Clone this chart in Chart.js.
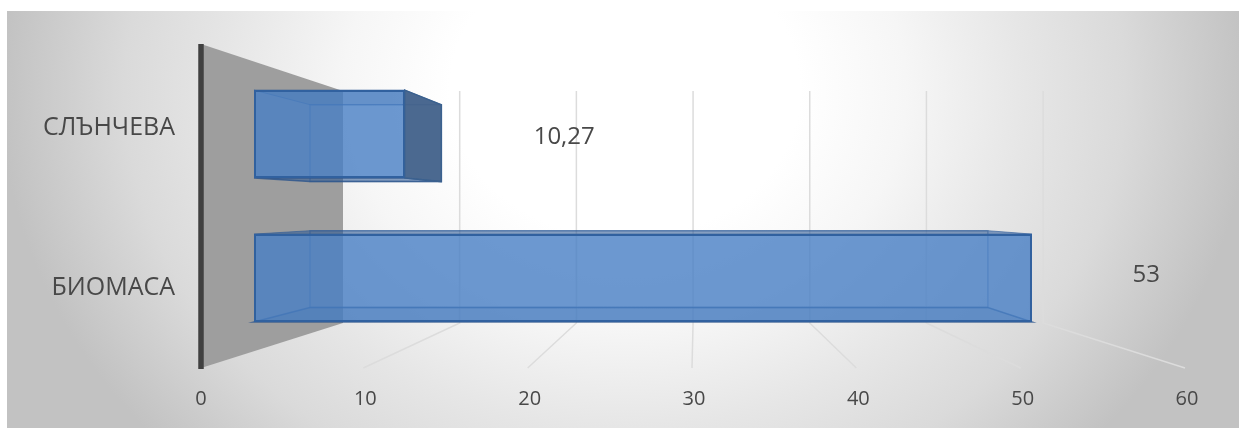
<!DOCTYPE html>
<html>
<head>
<meta charset="utf-8">
<script src="https://cdn.jsdelivr.net/npm/chart.js@4"></script>
<style>
    html, body { margin: 0; padding: 0; background: #fff; }
    #wrap { position: relative; width: 1239px; height: 428px; overflow: hidden; }
    #bg {
        position: absolute; left: 7px; top: 11px; width: 1232px; height: 417px;
        background: radial-gradient(ellipse 625px 528px at 618px 79px, #ffffff 0%, #ffffff 28%, #f6f6f6 45%, #e6e6e6 64%, #dadada 80%, #c2c2c2 100%);
    }
    #chart { position: absolute; left: 0; top: 0; }
</style>
</head>
<body>
<div id="wrap">
    <div id="bg"></div>
    <canvas id="chart" width="1239" height="428"></canvas>
</div>
<script>
    var categories = ["СЛЪНЧЕВА", "БИОМАСА"]
    var values = [10.27, 53]
    var tickValues = [0, 10, 20, 30, 40, 50, 60]

    var textColour = "#484848"
    var font = "Open Sans"

    // depth planes of the picture, scaled around the vanishing line
    var vanishY = 207
    var rearK = 0.875
    var labelK = 0.96
    var categoryK = 1.105

    function depthY(y, k) {
        return vanishY + (y - vanishY) * k
    }

    function poly(ctx, pts, fill, stroke, lw) {
        ctx.beginPath()
        pts.forEach(function (p, i) {
            if (i == 0) ctx.moveTo(p[0], p[1])
            else ctx.lineTo(p[0], p[1])
        })
        ctx.closePath()
        if (fill) {
            ctx.fillStyle = fill
            ctx.fill()
        }
        if (stroke) {
            ctx.strokeStyle = stroke
            ctx.lineWidth = lw || 1
            ctx.stroke()
        }
    }

    var box3d = {
        id: "box3d",
        beforeDatasetsDraw: function (chart) {
            var ctx = chart.ctx
            var area = chart.chartArea
            var front = chart.scales.x
            var wall = chart.scales.xWall
            var wallTop = area.top + 29
            var wallBottom = area.bottom - 27
            var floorY = area.bottom + 17
            var topY = area.top - 18
            var x0 = front.getPixelForValue(0)

            ctx.save()

            // back wall
            poly(ctx, [[x0, topY], [wall.getPixelForValue(0), wallTop], [wall.getPixelForValue(0), wallBottom], [x0, floorY + 1]], "#9e9e9e")

            // grid on the wall and on the floor
            ctx.strokeStyle = "#dcdcdc"
            ctx.lineWidth = 1.5
            tickValues.forEach(function (v) {
                if (v == 0) return
                var bx = wall.getPixelForValue(v)
                ctx.beginPath()
                ctx.moveTo(bx, wallTop)
                ctx.lineTo(bx, wallBottom)
                ctx.lineTo(front.getPixelForValue(v) - 2, floorY + 1)
                ctx.stroke()
            })

            // vertical axis line
            ctx.strokeStyle = "#404040"
            ctx.lineWidth = 5.5
            ctx.beginPath()
            ctx.moveTo(x0, topY)
            ctx.lineTo(x0, floorY + 2)
            ctx.stroke()

            // rear, top, bottom and end faces of the bars
            var meta = chart.getDatasetMeta(0)
            meta.data.forEach(function (bar, i) {
                var fx0 = chart.scales.xBar.getPixelForValue(0)
                var fx1 = chart.scales.xBar.getPixelForValue(values[i])
                var rx0 = chart.scales.xBarBack.getPixelForValue(0)
                var rx1 = chart.scales.xBarBack.getPixelForValue(values[i])
                var fy0 = bar.y - bar.height / 2
                var fy1 = bar.y + bar.height / 2
                var ry0 = depthY(fy0, rearK)
                var ry1 = depthY(fy1, rearK)
                var faceBlue = "rgba(50,100,170,0.30)"
                var edge = "rgba(45,90,150,0.45)"

                poly(ctx, [[rx0, ry0], [rx1, ry0], [rx1, ry1], [rx0, ry1]], faceBlue, edge, 1.5)
                poly(ctx, [[fx0, fy0], [rx0, ry0], [rx0, ry1], [fx0, fy1]], faceBlue)
                poly(ctx, [[fx0, fy0], [fx1, fy0], [rx1, ry0], [rx0, ry0]], "rgba(45,85,140,0.40)", "rgba(45,90,150,0.6)", 1)
                poly(ctx, [[fx0, fy1], [fx1, fy1], [rx1, ry1], [rx0, ry1]], "rgba(45,85,140,0.40)", "rgba(45,85,140,0.8)", 1.5)

                // end of the short bar is seen from outside, so it is darker
                if (rx1 > fx1) {
                    poly(ctx, [[fx1, fy0], [rx1, ry0], [rx1, ry1], [fx1, fy1]], "rgba(70,100,140,0.95)", "#3b618f", 1.5)
                } else {
                    poly(ctx, [[fx1, fy0], [rx1, ry0], [rx1, ry1], [fx1, fy1]], faceBlue)
                }
            })
            ctx.restore()
        },
        afterDatasetsDraw: function (chart) {
            var ctx = chart.ctx
            var meta = chart.getDatasetMeta(0)
            var yAxis = chart.scales.y
            ctx.save()
            ctx.fillStyle = textColour
            ctx.textBaseline = "middle"
            meta.data.forEach(function (bar, i) {
                // value labels
                ctx.font = "24px '" + font + "'"
                ctx.textAlign = "center"
                var lx = chart.scales.xLabel.getPixelForValue(values[i])
                ctx.fillText(String(values[i]).replace(".", ","), lx, depthY(bar.y, labelK))

                // category labels are spread wider than the bars
                ctx.font = "25px '" + font + "'"
                ctx.textAlign = "right"
                ctx.fillText(categories[i], yAxis.right - 26, depthY(bar.y, categoryK) + 2)
            })
            ctx.restore()
        }
    }

    var ctx = document.getElementById("chart").getContext("2d")
    var myChart = new Chart(ctx, {
        type: "bar",
        data: {
            labels: categories,
            datasets: [{
                data: values,
                xAxisID: "xBar",
                backgroundColor: "rgba(75,130,200,0.72)",
                borderColor: "#31619f",
                borderWidth: 2,
                borderSkipped: false,
                barPercentage: 0.61,
                categoryPercentage: 1
            }]
        },
        plugins: [box3d],
        options: {
            indexAxis: "y",
            responsive: false,
            animation: false,
            layout: { padding: { left: 0, right: 52, top: 62, bottom: 0 } },
            plugins: {
                legend: { display: false },
                tooltip: { enabled: false }
            },
            scales: {
                x: {
                    type: "linear",
                    position: "bottom",
                    min: 0,
                    max: 60,
                    afterFit: function (scale) { scale.height = 78 },
                    afterBuildTicks: function (scale) {
                        scale.ticks = tickValues.map(function (v) { return { value: v } })
                    },
                    grid: { display: false },
                    border: { display: false },
                    ticks: {
                        color: textColour,
                        font: { family: font, size: 20 },
                        padding: 29,
                        maxRotation: 0
                    }
                },
                // hidden scales, one for each depth plane of the 3d picture
                xWall: { type: "linear", display: false, min: -12.17, max: 72.33 },
                xBar: { type: "linear", display: false, min: -3.61, max: 63.56 },
                xBarBack: { type: "linear", display: false, min: -8.52, max: 68.57 },
                xLabel: { type: "linear", display: false, min: -16.4, max: 56 },
                y: {
                    afterFit: function (scale) { scale.width = 201 },
                    grid: { display: false },
                    border: { display: false },
                    ticks: { display: false }
                }
            }
        }
    })
</script>
</body>
</html>
